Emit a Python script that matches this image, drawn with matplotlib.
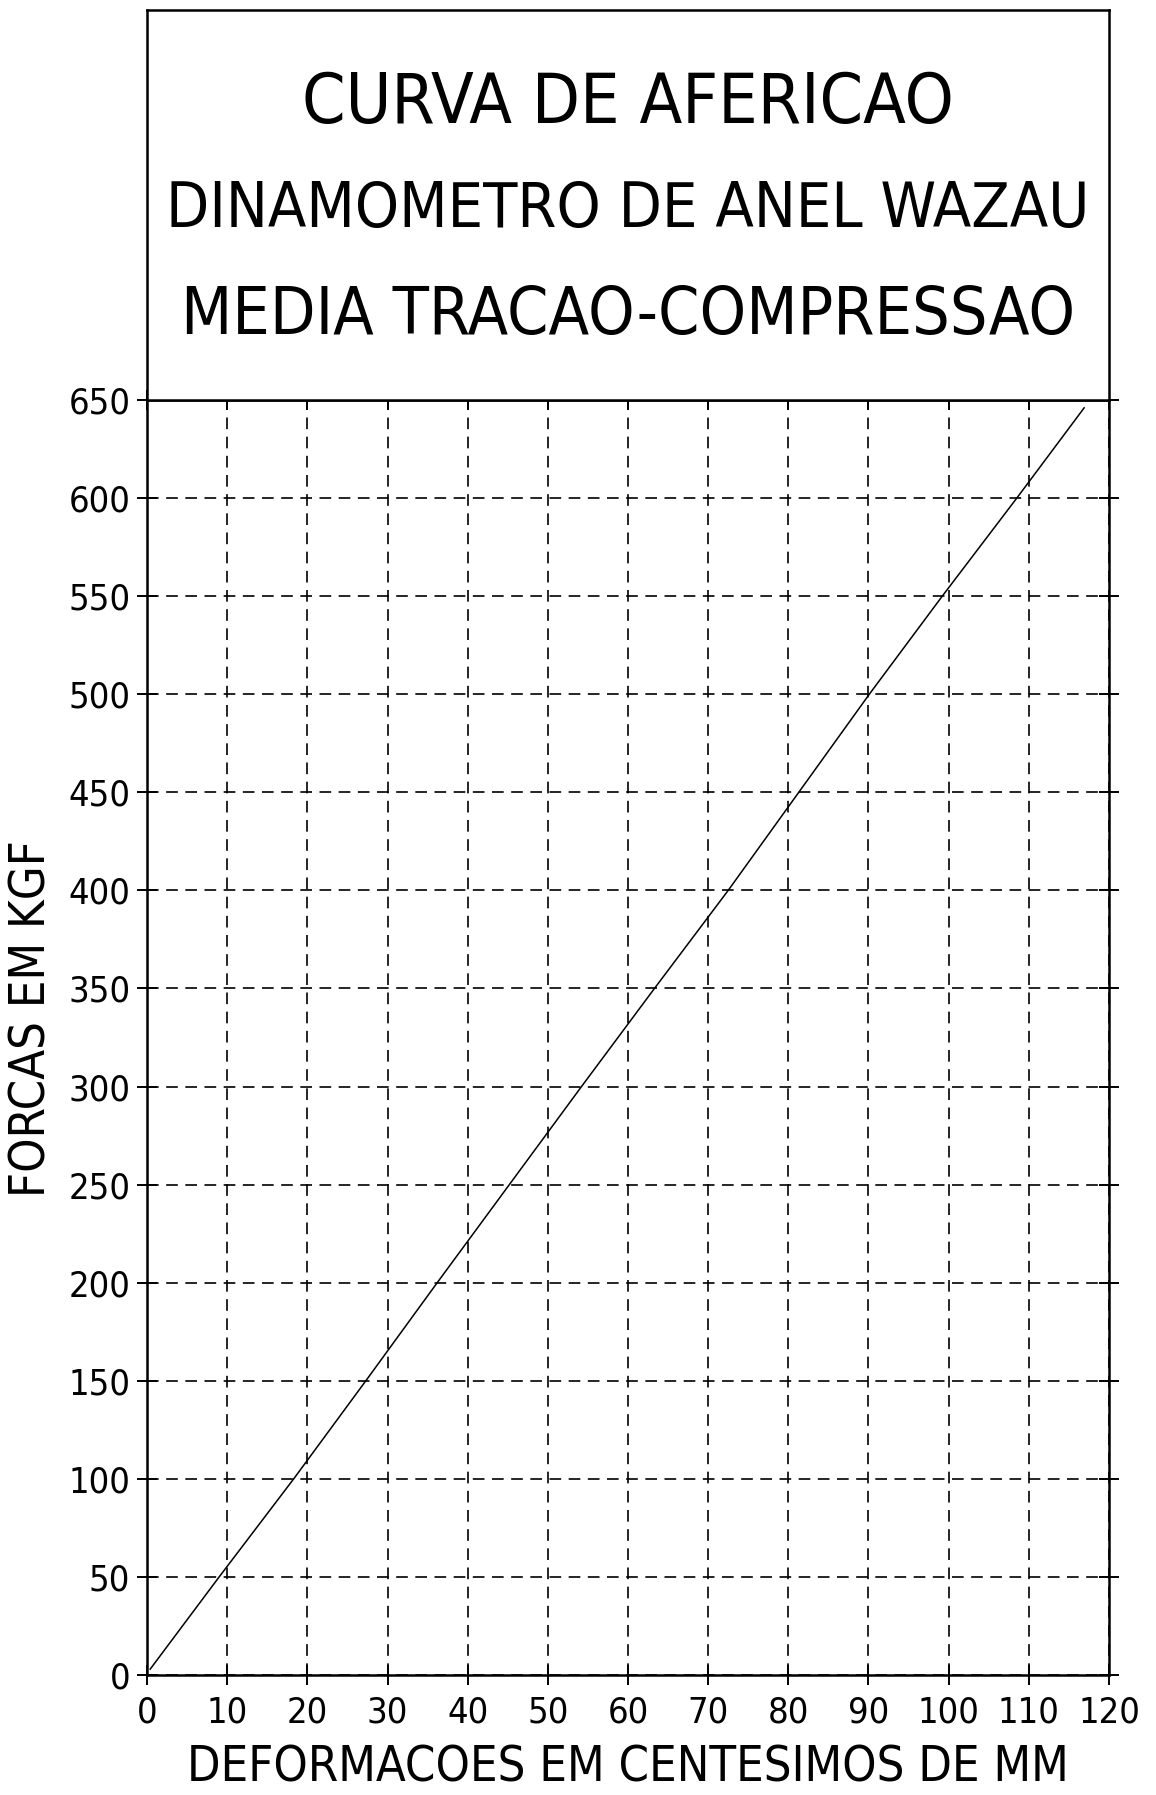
import matplotlib
matplotlib.use("Agg")
import matplotlib.pyplot as plt

# calibration curve (deformation in 1/100 mm, force in kgf)
deformacao = [0.4, 9.0, 18.3, 27.3, 36.2, 45.2, 54.2, 63.3, 72.5, 81.3, 90.1, 99.2, 108.5, 116.9]
forca = [3, 50, 100, 150, 200, 250, 300, 350, 400, 450, 500, 550, 600, 646]

x_ticks = list(range(0, 121, 10))
y_ticks = list(range(0, 651, 50))

titulos = ["CURVA DE AFERICAO", "DINAMOMETRO DE ANEL WAZAU", "MEDIA TRACAO-COMPRESSAO"]
titulo_tam = [50, 45, 47.5]
xlabel = "DEFORMACOES EM CENTESIMOS DE MM"
ylabel = "FORCAS EM KGF"

plt.rcParams['font.family'] = ['DejaVu Sans']
plt.rcParams['font.stretch'] = 'condensed'

W, H = 1156, 1795
fig = plt.figure(figsize=(W / 100, H / 100), dpi=100)

left, right = 147 / W, 1109 / W
bottom, top = 1 - 1675 / H, 1 - 400 / H
ax = fig.add_axes([left, bottom, right - left, top - bottom])

ax.plot(deformacao, forca, color='black', lw=1.1)
ax.set_xlim(0, 120)
ax.set_ylim(0, 650)
ax.set_xticks(x_ticks)
ax.set_yticks(y_ticks)
ax.grid(True, color='black', lw=1.2, linestyle=(0, (7, 4.5)))
ax.tick_params(direction='inout', length=14, width=1.4, labelsize=26,
               top=True, right=True)
ax.tick_params(axis='y', pad=5)
ax.tick_params(axis='x', pad=8)
for s in ax.spines.values():
    s.set_linewidth(1.8)

fig.text((left + right) / 2, 1 - 1768 / H, xlabel, fontsize=35,
         ha='center', va='center')
fig.text(32 / W, 1 - 1019 / H, ylabel, fontsize=35, rotation=90,
         ha='center', va='center')

# title box above the graph
box_top = 1 - 10 / H
tb = fig.add_axes([left, top, right - left, box_top - top])
tb.set_xticks([])
tb.set_yticks([])
for s in tb.spines.values():
    s.set_linewidth(1.8)
for txt, fs, yc in zip(titulos, titulo_tam, [104, 210, 316]):
    tb.text(0.5, (400 - yc) / (400 - 10), txt, fontsize=fs,
            ha='center', va='center', transform=tb.transAxes)

fig.savefig("out.png", dpi=100)
